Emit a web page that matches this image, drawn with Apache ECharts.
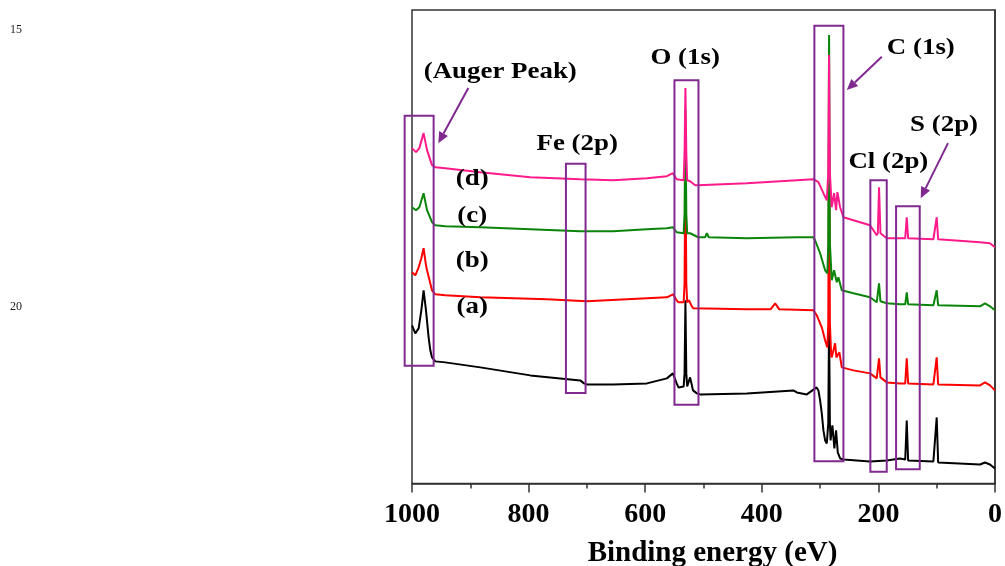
<!DOCTYPE html>
<html>
<head>
<meta charset="utf-8">
<title>XPS survey spectra</title>
<script src="https://cdn.jsdelivr.net/npm/echarts@6.0.0/dist/echarts.min.js"></script>
<style>
  html, body { margin: 0; padding: 0; background: #fff; }
  #chart { width: 1005px; height: 566px; }
</style>
</head>
<body>
<div id="chart"></div>
<script>
// binding energy (eV) vs intensity (a.u., curves offset)
const spectrumA = [
  [1000, 158], [994.3, 150], [988.6, 155], [984, 173], [980.1, 193], [976, 173], [971.5, 146],
  [968.6, 133], [965.7, 126], [960, 122], [942.9, 121], [882.9, 116], [797.1, 108], [711.4, 103],
  [705, 100], [700, 99], [654.9, 99], [597.1, 100], [562.8, 105], [552.5, 110], [546, 100],
  [542.9, 96], [534, 97], [532.5, 110], [531, 183], [529.5, 110], [528, 97], [523, 106], [518, 93],
  [511.4, 90], [505.7, 89], [425.7, 90], [345.8, 93], [340, 91], [322.8, 89], [306, 96],
  [302.9, 93], [300, 83], [297.1, 70], [294.3, 53], [291.4, 43], [288.5, 40], [286, 60],
  [284.6, 163], [283.2, 60], [282, 43], [278.9, 58], [275.5, 35], [272.6, 53], [269.7, 31],
  [265.7, 25], [260, 24], [214.3, 22], [185.7, 23], [162.9, 25], [154, 24], [151.4, 63], [149, 23],
  [145.7, 23], [105.7, 22], [102.5, 22], [100, 66], [97.5, 21], [94.3, 21], [25.7, 19],
  [17.1, 21], [8.6, 19], [0, 15]
];
const spectrumB = [
  [1000, 211], [994.3, 208], [988.6, 216], [984, 225], [980.1, 235], [976, 218], [974.2, 213],
  [965.7, 193], [960, 189], [942.9, 188], [882.9, 186], [768.5, 184], [700, 182], [597.1, 185],
  [562.8, 186], [552.5, 189], [546, 183], [542.9, 181], [534, 181], [532.5, 200], [531, 333],
  [529.5, 200], [528, 181], [525, 183], [520, 177], [517.2, 175], [425.7, 174], [385, 174],
  [377.1, 180], [370, 174], [311.5, 173], [305.7, 168], [297.1, 156], [291.4, 143], [287.5, 136],
  [286, 160], [284.6, 353], [283.2, 160], [281, 128], [280, 126], [274.3, 140], [272, 126],
  [266.9, 131], [262.8, 116], [242.9, 113], [214.3, 110], [202.9, 105], [201, 106], [198.9, 125],
  [196.5, 106], [194.3, 105], [185.7, 101], [162.9, 100], [154, 100], [151.4, 125], [149, 100],
  [145.7, 100], [105.7, 99], [102.5, 99], [100, 126], [97.5, 99], [94.3, 99], [25.7, 98],
  [17.1, 101], [8.6, 98], [0, 93]
];
const spectrumC = [
  [1000, 276], [993.1, 273], [987.4, 276], [980.1, 290], [974.2, 273], [965.7, 261], [960, 258],
  [942.9, 257], [882.9, 256], [797.1, 254], [711.4, 252], [654.9, 252], [597.1, 254], [562.8, 255],
  [552.5, 256], [546, 251], [542.9, 250], [534, 250], [532.5, 270], [531, 373], [529.5, 270],
  [528, 250], [522.9, 250], [509.1, 246], [497, 246], [494.2, 250], [491, 246], [425.7, 245],
  [340, 246], [311.5, 246], [308.6, 243], [300, 230], [291.4, 213], [287.5, 210], [286, 240],
  [284.6, 448], [283.2, 240], [280, 203], [276, 213], [271.4, 201], [268.6, 206], [262.8, 193],
  [242.9, 190], [214.3, 186], [202.9, 181], [201, 182], [198.9, 200], [196.5, 182], [194.3, 181],
  [185.7, 180], [162.9, 179], [154, 179], [151.4, 191], [149, 179], [145.7, 179], [105.7, 178],
  [102.5, 178], [100, 193], [97.5, 178], [94.3, 178], [25.7, 177], [17.1, 180], [8.6, 177],
  [0, 173]
];
const spectrumD = [
  [1000, 335], [993.1, 331], [987.4, 335], [980.1, 350], [974.2, 333], [965.7, 318], [960, 316],
  [942.9, 315], [882.9, 311], [797.1, 306], [711.4, 304], [654.9, 303], [597.1, 305], [562.8, 307],
  [552.5, 310], [546, 304], [542.9, 303], [534, 303], [532.5, 330], [531, 395], [529.5, 330],
  [528, 303], [522.9, 302], [514.3, 298], [509.1, 298], [425.7, 300], [340, 303], [311.5, 304],
  [302.9, 301], [294.3, 290], [288.5, 283], [286, 310], [284.6, 428], [283.2, 310], [280, 276],
  [276, 290], [272.6, 273], [270.3, 291], [265.7, 276], [260, 266], [242.9, 263], [214.3, 258],
  [202.9, 248], [201, 250], [198.9, 296], [196.5, 250], [194.3, 250], [185.7, 245], [162.9, 245],
  [154, 245], [151.4, 266], [149, 245], [145.7, 245], [105.7, 244], [102.5, 244], [100, 266],
  [97.5, 244], [94.3, 244], [25.7, 241], [8.6, 240], [0, 236]
];
const seriesNames = ['(a)', '(b)', '(c)', '(d)'];
const seriesColors = ['#000000', '#ff0000', '#0a850a', '#ff1a8c'];

// highlight boxes: [eV from, eV to, low, high]
const boxes = [
  [1012.6, 962.9, 117.7, 367.3],
  [736.0, 702.3, 90.3, 319.3],
  [549.8, 508.6, 78.7, 402.7],
  [309.8, 260.0, 22.3, 457.3],
  [213.8, 185.7, 11.7, 303],
  [169.7, 129.1, 14.3, 277]
];
// arrows: [eV start, y start, eV tip, y tip]
const arrows = [
  [903.4, 395, 954.9, 340],
  [194.2, 426.3, 254.2, 393],
  [80.6, 340, 127.4, 285]
];
const labelText = ['(Auger Peak)', 'Fe (2p)', 'O (1s)', 'C (1s)', 'Cl (2p)', 'S (2p)', '(a)', '(b)', '(c)', '(d)'];
const labelX = [848.6, 716.6, 531.4, 127.2, 182.9, 87.4, 896.6, 896.6, 896.6, 896.6];
const labelY = [411, 339, 425, 435.5, 321, 358, 176.5, 222, 267, 304];

const PURPLE = '#802a90';
const AXIS = '#333';
const SERIF = '"Liberation Serif", "Times New Roman", serif';

const chart = echarts.init(document.getElementById('chart'));

const lines = [spectrumA, spectrumB, spectrumC, spectrumD].map((d, i) => ({
  name: seriesNames[i],
  type: 'line',
  data: d,
  symbol: 'none',
  lineStyle: { color: seriesColors[i], width: 2 },
  z: 2,
}));

const option = {
  animation: false,
  grid: {
    left: 412, right: 10, top: 10, bottom: 82.5,
    show: true, borderColor: AXIS, borderWidth: 1.5,
    outerBoundsMode: 'none',
  },
  xAxis: {
    type: 'value', inverse: true, min: 0, max: 1000, interval: 200,
    name: 'Binding energy (eV)', nameLocation: 'middle', nameGap: 56,
    nameTextStyle: { fontFamily: SERIF, fontWeight: 'bold', fontSize: 29, color: '#000', padding: [0, 0, 0, 18] },
    axisLine: { show: true, lineStyle: { color: AXIS, width: 1.5 } },
    axisTick: { show: true, length: 9, lineStyle: { color: AXIS, width: 1.5 } },
    minorTick: { show: true, splitNumber: 2, length: 5, lineStyle: { color: AXIS, width: 1.5 } },
    splitLine: { show: false },
    axisLabel: {
      fontFamily: SERIF, fontWeight: 'bold', fontSize: 28, color: '#000', margin: 17,
      formatter: (v) => String(v),
    },
  },
  yAxis: {
    type: 'value', min: 0, max: 473,
    axisLine: { show: true, lineStyle: { color: AXIS, width: 1.5 } },
    axisTick: { show: false }, axisLabel: { show: false }, splitLine: { show: false },
  },
  graphic: [
    { type: 'text', left: 10, top: 24, style: { text: '15', font: '12px ' + SERIF, fill: '#222' } },
    { type: 'text', left: 10, top: 301, style: { text: '20', font: '12px ' + SERIF, fill: '#222' } },
  ],
  series: lines.concat([
    {
      type: 'custom',
      z: 5,
      clip: false,
      data: boxes,
      encode: { x: [0, 1], y: [2, 3] },
      renderItem: (params, api) => {
        const p1 = api.coord([api.value(0), api.value(3)]);
        const p2 = api.coord([api.value(1), api.value(2)]);
        return {
          type: 'rect',
          shape: {
            x: Math.min(p1[0], p2[0]), y: Math.min(p1[1], p2[1]),
            width: Math.abs(p2[0] - p1[0]), height: Math.abs(p2[1] - p1[1]),
          },
          style: { fill: null, stroke: PURPLE, lineWidth: 2 },
        };
      },
    },
    {
      type: 'custom',
      z: 5,
      clip: false,
      data: arrows,
      encode: { x: [0, 2], y: [1, 3] },
      renderItem: (params, api) => {
        const s = api.coord([api.value(0), api.value(1)]);
        const e = api.coord([api.value(2), api.value(3)]);
        const ang = Math.atan2(e[1] - s[1], e[0] - s[0]);
        const len = 11, half = 5;
        const bx = e[0] - len * Math.cos(ang), by = e[1] - len * Math.sin(ang);
        const nx = -Math.sin(ang) * half, ny = Math.cos(ang) * half;
        return {
          type: 'group',
          children: [
            { type: 'line', shape: { x1: s[0], y1: s[1], x2: bx, y2: by }, style: { stroke: PURPLE, lineWidth: 2 } },
            { type: 'polygon', shape: { points: [[e[0], e[1]], [bx + nx, by + ny], [bx - nx, by - ny]] }, style: { fill: PURPLE } },
          ],
        };
      },
    },
    {
      type: 'custom',
      z: 6,
      clip: false,
      data: labelText.map((t, i) => [labelX[i], labelY[i], i]),
      renderItem: (params, api) => {
        const p = api.coord([api.value(0), api.value(1)]);
        return {
          type: 'text',
          x: p[0], y: p[1],
          scaleX: 1.12,
          style: {
            text: labelText[api.value(2)],
            font: 'bold 24px ' + SERIF,
            fill: '#000',
            align: 'center', verticalAlign: 'middle',
            textAlign: 'center', textVerticalAlign: 'middle',
          },
        };
      },
    },
  ]),
};

chart.setOption(option);
</script>
</body>
</html>
